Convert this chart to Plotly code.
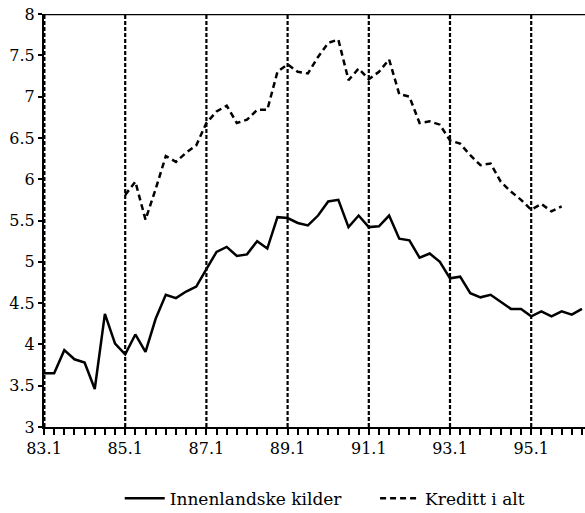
import plotly.graph_objects as go

# quarters 83.1 .. 96.2
quarters = [f"{y}.{q}" for y in range(83, 97) for q in range(1, 5)][:54]

innenlandske = [3.65, 3.65, 3.93, 3.82, 3.78, 3.46, 4.37, 4.01,
                3.88, 4.12, 3.91, 4.31, 4.60, 4.56, 4.64, 4.70,
                4.91, 5.12, 5.18, 5.07, 5.09, 5.25, 5.16, 5.54,
                5.53, 5.47, 5.44, 5.56, 5.73, 5.75, 5.42, 5.56,
                5.42, 5.43, 5.56, 5.28, 5.26, 5.05, 5.10, 5.00,
                4.80, 4.82, 4.62, 4.57, 4.60, 4.52, 4.43, 4.43,
                4.34, 4.40, 4.34, 4.40, 4.36, 4.43]

kreditt = [None] * 8 + [
                5.81, 5.97, 5.51, 5.88, 6.28, 6.21, 6.32, 6.41,
                6.68, 6.82, 6.89, 6.68, 6.72, 6.84, 6.84, 7.30,
                7.39, 7.30, 7.28, 7.48, 7.65, 7.69, 7.20, 7.34,
                7.21, 7.30, 7.45, 7.03, 7.00, 6.68, 6.70, 6.66,
                6.47, 6.43, 6.29, 6.17, 6.19, 5.97, 5.85, 5.75,
                5.63, 5.70, 5.61, 5.67]

tick_labels = ["83.1", "85.1", "87.1", "89.1", "91.1", "93.1", "95.1"]
y_ticks = [3, 3.5, 4, 4.5, 5, 5.5, 6, 6.5, 7, 7.5, 8]

idx = list(range(len(quarters)))
tick_idx = [quarters.index(t) for t in tick_labels]
x_text = [q if q in tick_labels else "" for q in quarters]

fig = go.Figure()
fig.add_trace(go.Scatter(x=idx, y=innenlandske, mode="lines", name="Innenlandske kilder",
                         line=dict(color="black", width=2.5), legend="legend"))
fig.add_trace(go.Scatter(x=idx[:len(kreditt)], y=kreditt, mode="lines", name="Kreditt i alt",
                         line=dict(color="black", width=2.5, dash="6px,4px"), legend="legend2"))

for t in tick_idx:
    fig.add_vline(x=t, line=dict(color="black", width=3 if t == 0 else 2.2, dash="4px,2px"))

font = "DejaVu Serif"
leg = dict(orientation="h", xanchor="left", y=-0.13, yanchor="top",
           font=dict(family=font, size=17), itemwidth=40, bgcolor="rgba(0,0,0,0)")
fig.update_layout(
    width=585, height=513,
    margin=dict(l=44, r=0, t=14, b=86, autoexpand=False),
    plot_bgcolor="white", paper_bgcolor="white",
    font=dict(family=font, size=16, color="black"),
    showlegend=True,
    legend=dict(leg, x=0.140),
    legend2=dict(leg, x=0.612),
)
fig.update_xaxes(range=[0, 53.3], tickvals=idx, ticktext=x_text, tickangle=0,
                 showgrid=False, zeroline=False, showline=True, linecolor="black", linewidth=2,
                 ticks="outside", ticklen=6, tickwidth=2, tickcolor="black", ticklabelstandoff=0)
fig.update_yaxes(range=[3, 8], tickvals=y_ticks, ticktext=[f"{v:g}" for v in y_ticks],
                 showgrid=False, zeroline=False, showline=True, linecolor="black", linewidth=2,
                 ticks="outside", ticklen=4, tickwidth=1.5, tickcolor="black", ticklabelstandoff=0)
# top border line
fig.add_hline(y=8, line=dict(color="black", width=2.5))

# page body has a default margin; remove it so the figure sits at the window corner
fig.write_html("out.html", config={"displayModeBar": False},
               post_script="document.body.style.margin='0px';")
